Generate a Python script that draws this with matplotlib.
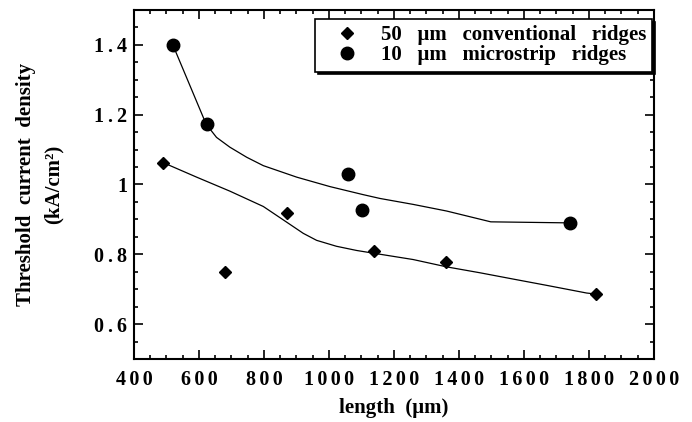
import matplotlib.pyplot as plt
from matplotlib.ticker import MultipleLocator, FixedLocator, FixedFormatter

# measured points
conv_len=[489,680,871,1138,1360,1822]
conv_j=[1.063,0.749,0.917,0.809,0.777,0.686]
micro_len=[520,625,1058,1102,1741]
micro_j=[1.400,1.174,1.029,0.926,0.891]

# fit curves
conv_fit_len=[489,593,695,798,870,921,962,1023,1085,1138,1259,1362,1465,1567,1670,1793,1822]
conv_fit_j=[1.063,1.021,0.981,0.937,0.892,0.860,0.840,0.823,0.811,0.803,0.785,0.764,0.747,0.729,0.711,0.689,0.686]
micro_fit_len=[521,622,654,695,747,798,901,1003,1105,1157,1259,1362,1498,1741]
micro_fit_j=[1.397,1.173,1.135,1.107,1.078,1.054,1.021,0.994,0.971,0.960,0.943,0.924,0.893,0.890]

xticks=[400,600,800,1000,1200,1400,1600,1800,2000]
yticks=[0.6,0.8,1.0,1.2,1.4]
ylabels=['0.6','0.8','1','1.2','1.4']

def spaced(s,sp='\u2009'):
	return sp.join(s)

plt.rcParams['font.family']=['Liberation Serif','DejaVu Serif']
plt.rcParams['font.weight']='bold'

fig=plt.figure(figsize=(6.92,4.22),dpi=100)
ax=fig.add_axes([0.1936,0.1493,0.7514,0.827])

ax.plot(conv_fit_len,conv_fit_j,'k-',lw=0.9)
ax.plot(micro_fit_len,micro_fit_j,'k-',lw=0.9)
ax.plot(conv_len,conv_j,'kD',ms=6.5,ls='none',label='50   μm   conventional   ridges')
ax.plot(micro_len,micro_j,'ko',ms=9,ls='none',label='10   μm   microstrip   ridges')

ax.set_xlim(400,2000)
ax.set_ylim(0.5,1.5)
ax.xaxis.set_major_locator(FixedLocator(xticks))
ax.xaxis.set_major_formatter(FixedFormatter([spaced(str(v),'\u2006') for v in xticks]))
ax.xaxis.set_minor_locator(MultipleLocator(50))
ax.yaxis.set_major_locator(FixedLocator(yticks))
ax.yaxis.set_major_formatter(FixedFormatter([spaced(s) for s in ylabels]))
ax.yaxis.set_minor_locator(MultipleLocator(0.05))
ax.tick_params(which='both',direction='in',top=True,right=True,labelsize=14.5,width=1.2)
ax.tick_params(which='major',length=6.5)
ax.tick_params(which='minor',length=3.2)
ax.tick_params(axis='x',pad=8)
ax.tick_params(axis='y',pad=5)
for lab in ax.get_xticklabels()+ax.get_yticklabels():
	lab.set_fontweight('bold')
for s in ax.spines.values():
	s.set_linewidth(1.5)

ax.set_xlabel('length  (μm)',fontsize=15,fontweight='bold',va='center')
ax.xaxis.set_label_coords(0.5,-0.140)
ax.set_ylabel('Threshold  current  density\n(kA/cm²)',fontsize=15,fontweight='bold',va='center',linespacing=1.45)
ax.yaxis.set_label_coords(-0.181,0.5)

leg=ax.legend(loc='upper left',bbox_to_anchor=(315/692,1-19/422),bbox_transform=fig.transFigure,
	fancybox=False,edgecolor='black',framealpha=1,fontsize=15,handlelength=2.5,handletextpad=0.35,
	borderpad=0.3,labelspacing=0.0,borderaxespad=0,
	shadow={'color':'black','alpha':1})
leg.get_frame().set_linewidth(1.2)

fig.savefig('out.png',dpi=100)
